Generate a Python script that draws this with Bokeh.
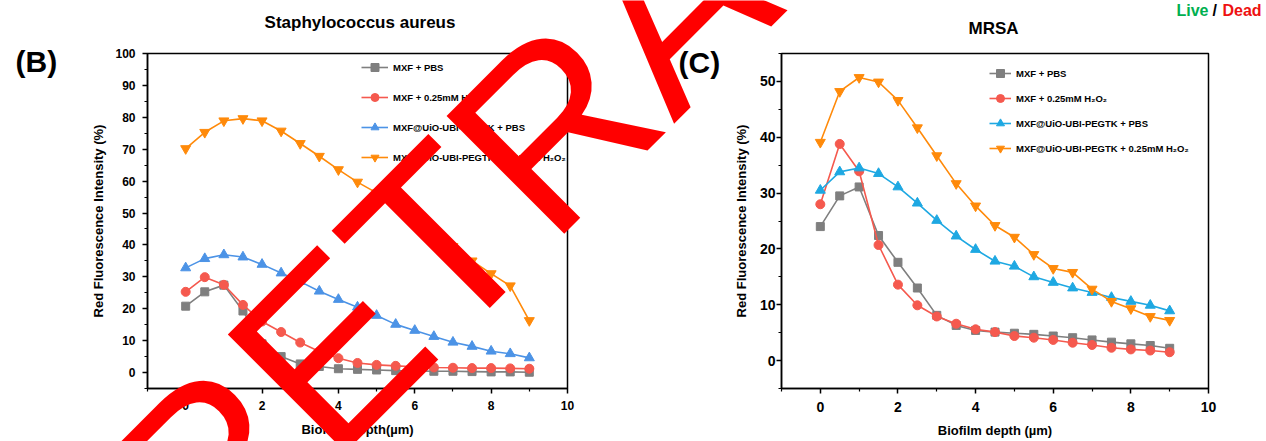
import math
from bokeh.plotting import figure
from bokeh.models import Range1d, FixedTicker, Label, Legend, LegendItem
from bokeh.layouts import row, column
from bokeh.embed import file_html
from bokeh.resources import INLINE

# ---------------- data ----------------
depth = [0, 0.5, 1, 1.5, 2, 2.5, 3, 3.5, 4, 4.5, 5, 5.5, 6, 6.5, 7, 7.5, 8, 8.5, 9]

series_names = ["MXF + PBS", "MXF + 0.25mM H\u2082O\u2082",
                "MXF@UiO-UBI-PEGTK + PBS", "MXF@UiO-UBI-PEGTK + 0.25mM H\u2082O\u2082"]

# (B) Staphylococcus aureus
sa_mxf_pbs = [20.8, 25.3, 27.4, 19.3, 9.0, 5.0, 2.7, 1.9, 1.2, 1.0, 0.8, 0.6, 0.5, 0.4, 0.4, 0.3, 0.2, 0.2, 0.1]
sa_mxf_h2o2 = [25.3, 29.9, 27.5, 21.2, 16.0, 12.7, 9.4, 6.6, 4.5, 3.0, 2.4, 2.1, 1.8, 1.6, 1.5, 1.4, 1.4, 1.3, 1.2]
sa_nano_pbs = [32.8, 35.7, 36.9, 36.2, 33.9, 31.2, 28.5, 25.5, 22.9, 20.5, 17.9, 15.1, 13.2, 11.3, 9.5, 8.2, 6.7, 5.9, 4.6]
sa_nano_h2o2 = [70.2, 75.3, 78.9, 79.6, 78.9, 75.7, 71.8, 67.8, 63.6, 59.7, 56.3, 52.5, 48.5, 44.0, 39.5, 35.0, 31.0, 27.2, 16.3]

# (C) MRSA
mrsa_mxf_pbs = [24.0, 29.5, 31.1, 22.4, 17.6, 13.0, 8.1, 6.3, 5.4, 5.1, 4.9, 4.7, 4.4, 4.1, 3.7, 3.3, 3.0, 2.7, 2.2]
mrsa_mxf_h2o2 = [28.0, 38.8, 33.9, 20.7, 13.6, 9.9, 7.9, 6.6, 5.6, 5.1, 4.4, 4.1, 3.7, 3.2, 2.8, 2.3, 2.0, 1.8, 1.5]
mrsa_nano_pbs = [30.5, 33.8, 34.5, 33.5, 31.1, 28.2, 25.1, 22.3, 19.9, 17.8, 16.9, 15.0, 14.0, 13.0, 12.2, 11.3, 10.6, 9.9, 8.9]
mrsa_nano_h2o2 = [39.1, 48.2, 50.7, 49.9, 46.6, 41.7, 36.7, 31.7, 27.7, 24.2, 22.1, 19.0, 16.5, 15.8, 12.8, 10.6, 9.3, 7.9, 7.2]

x_ticks = [0, 2, 4, 6, 8, 10]
x_minor = [-1, 1, 3, 5, 7, 9]
yB_ticks = [0, 10, 20, 30, 40, 50, 60, 70, 80, 90, 100]
yB_minor = [-5, 5, 15, 25, 35, 45, 55, 65, 75, 85, 95]
yC_ticks = [0, 10, 20, 30, 40, 50]
yC_minor = [-5, 5, 15, 25, 35, 45, 55]

FONT = "Liberation Sans"
GRAY, RED, ORANGE = "#7f7f7f", "#f5594e", "#ff8a0a"
BLUE_B, BLUE_C = "#4c93e6", "#1ea8e2"
markers = ["square", "circle", "triangle", "inverted_triangle"]
msizes = [8, 9, 10, 10]

# page geometry (pixels); the figures start at the page's top-left corner
PAGE_W, H = 1266, 441
B_W, C_W = 640, 626
B_FR = dict(left=147, right=567, top=53, bottom=388)
C_FR = dict(left=781, right=1208, top=52, bottom=391)
XR = (-1, 10)
YB = (-5, 100)
YC = (-5, 55)


def make_fig(width, fr, fig_left, yr, yt, ym, tick_fs, lab_fs, xlab):
    p = figure(width=width, height=H, output_backend="svg", toolbar_location=None,
               x_range=Range1d(*XR), y_range=Range1d(*yr),
               min_border_left=fr["left"] - fig_left,
               min_border_right=fig_left + width - fr["right"],
               min_border_top=fr["top"],
               min_border_bottom=H - fr["bottom"])
    p.background_fill_color = "white"
    p.border_fill_color = "white"
    p.outline_line_color = "black"
    p.outline_line_width = 1.5
    p.xgrid.visible = False
    p.ygrid.visible = False
    p.xaxis.ticker = FixedTicker(ticks=x_ticks, minor_ticks=x_minor)
    p.yaxis.ticker = FixedTicker(ticks=yt, minor_ticks=ym)
    for ax in (p.xaxis[0], p.yaxis[0]):
        ax.axis_line_color = "black"
        ax.axis_line_width = 1.5
        ax.major_tick_line_color = "black"
        ax.major_tick_line_width = 1.5
        ax.minor_tick_line_color = "black"
        ax.minor_tick_line_width = 1.2
        ax.major_tick_in = 0
        ax.major_tick_out = 5
        ax.minor_tick_in = 0
        ax.minor_tick_out = 3
        ax.major_label_text_font = FONT
        ax.major_label_text_font_style = "bold"
        ax.major_label_text_font_size = tick_fs
        ax.major_label_text_color = "black"
        ax.axis_label_text_font = FONT
        ax.axis_label_text_font_style = "bold"
        ax.axis_label_text_font_size = lab_fs
        ax.axis_label_text_color = "black"
    p.xaxis.axis_label = xlab
    p.yaxis.axis_label = "Red Fluorescence Intensity (%)"
    return p


def add_series(p, datasets, colors, glyph_w, spacing, loc):
    items = []
    for name, ys, col, mk, ms in zip(series_names, datasets, colors, markers, msizes):
        r1 = p.line(depth, ys, line_color=col, line_width=1.6)
        r2 = p.scatter(depth, ys, marker=mk, size=ms, fill_color=col, line_color=col)
        items.append(LegendItem(label=name, renderers=[r1, r2]))
    lg = Legend(items=items, location=loc, border_line_color=None,
                background_fill_alpha=0, padding=0, margin=0,
                spacing=spacing, glyph_height=20, label_height=20,
                glyph_width=glyph_w, label_standoff=5,
                label_text_font=FONT, label_text_font_style="bold",
                label_text_font_size="9.5px", label_text_color="black")
    p.add_layout(lg)


# ---------------- panel B ----------------
pB = make_fig(B_W, B_FR, 0, YB, yB_ticks, yB_minor, "12px", "13px", "Biofilm Depth(\u00b5m)")
pB.yaxis.major_label_standoff = 7
pB.yaxis.axis_label_standoff = 6
pB.xaxis.major_label_standoff = 7
pB.xaxis.axis_label_standoff = 9
add_series(pB, [sa_mxf_pbs, sa_mxf_h2o2, sa_nano_pbs, sa_nano_h2o2],
           [GRAY, RED, BLUE_B, ORANGE], 27, 10,
           (361 - B_FR["left"], B_FR["bottom"] - 167))

# ---------------- panel C ----------------
pC = make_fig(C_W, C_FR, B_W, YC, yC_ticks, yC_minor, "14px", "13px", "Biofilm depth (\u00b5m)")
pC.yaxis.major_label_standoff = 1
pC.yaxis.axis_label_standoff = 8
pC.xaxis.major_label_standoff = 8
pC.xaxis.axis_label_standoff = 8
add_series(pC, [mrsa_mxf_pbs, mrsa_mxf_h2o2, mrsa_nano_pbs, mrsa_nano_h2o2],
           [GRAY, RED, BLUE_C, ORANGE], 22, 5,
           (989 - C_FR["left"], C_FR["bottom"] - 161))

# ---------------- transparent page-wide layer for titles, panel letters and stamp ----------------
pO = figure(width=PAGE_W, height=H, output_backend="svg", toolbar_location=None,
            x_range=Range1d(0, PAGE_W), y_range=Range1d(H, 0),
            x_axis_location=None, y_axis_location=None, min_border=0, title=None)
pO.background_fill_color = None
pO.border_fill_color = None
pO.outline_line_color = None
pO.grid.visible = False
pO.styles = {"position": "absolute", "top": "0px", "left": "0px", "z-index": "10"}


def page_label(x, y, text, size, color="black", style="bold", align="left",
               baseline="middle", angle=0.0, level="annotation"):
    pO.add_layout(Label(x=x, y=y, text=text, text_font=FONT, text_font_size=size,
                        text_font_style=style, text_color=color, text_align=align,
                        text_baseline=baseline, angle=angle, level=level))


page_label(359.5, 22, "Staphylococcus aureus", "17px", align="center")
page_label(15, 61, "(B)", "30px")
page_label(993, 27.5, "MRSA", "17px", align="center")
page_label(678, 62, "(C)", "30px")
page_label(1176, 10, "Live", "16px", color="#00b050")
page_label(1212, 10, "/", "16px")
page_label(1222, 10, "Dead", "16px", color="#ee1111")
page_label(148, 530, "RETRACTED", "242px", color="#ff0000", style="normal",
           baseline="alphabetic", angle=math.pi / 4, level="overlay")

layout = column(row(pB, pC, spacing=0), pO, spacing=0)
open("out.html", "w").write(file_html(layout, INLINE))
